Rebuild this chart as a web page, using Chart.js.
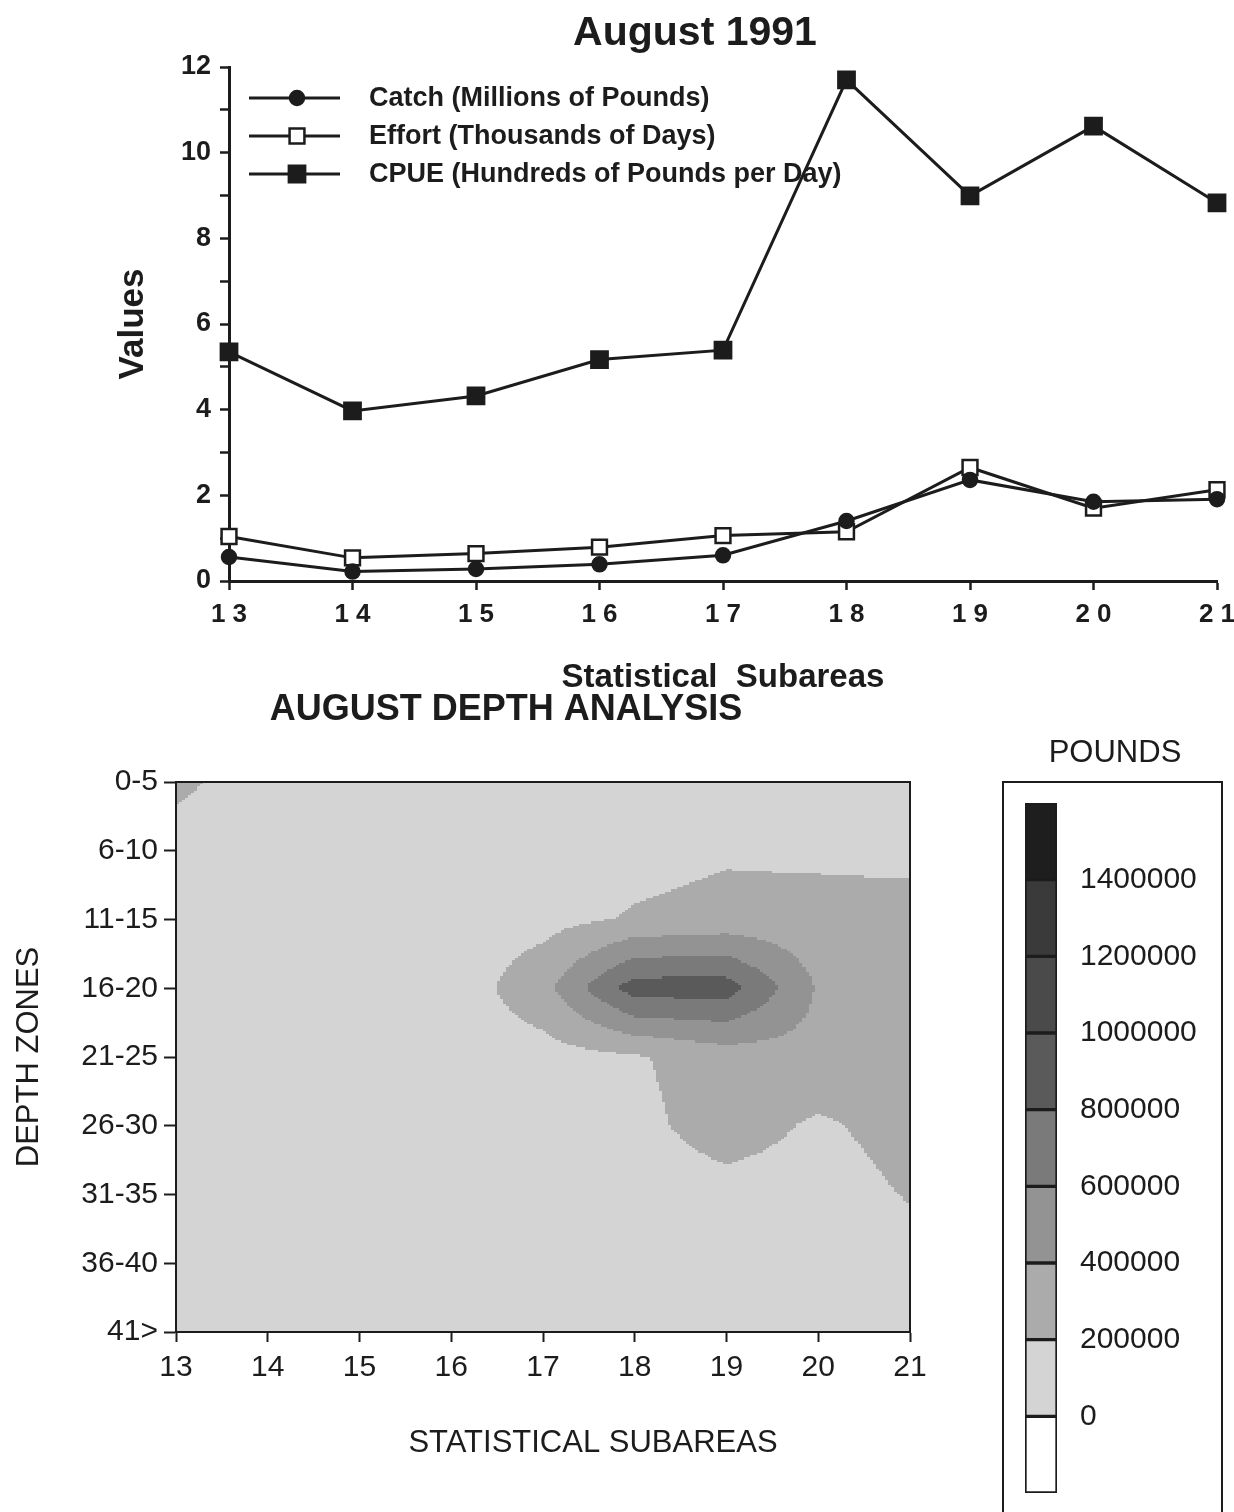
<!DOCTYPE html>
<html>
<head>
<meta charset="utf-8">
<script src="https://cdn.jsdelivr.net/npm/chart.js@4.4.1/dist/chart.umd.min.js"></script>
<style>
  html, body { margin: 0; padding: 0; background: #fff; }
  body { width: 1234px; height: 1512px; position: relative; overflow: hidden; }
  .panel { position: absolute; }
</style>
</head>
<body>
<div class="panel" style="left:0;top:0;width:1234px;height:692px"><canvas id="line-chart"></canvas></div>
<div class="panel" style="left:0;top:680px;width:1012px;height:832px"><canvas id="depth-chart"></canvas></div>
<div class="panel" style="left:1000px;top:725px;width:234px;height:787px"><canvas id="pounds-key"></canvas></div>
<script>
// --- top chart data ---
const subareas = ['13', '14', '15', '16', '17', '18', '19', '20', '21'];
const catchMillions = [0.56, 0.22, 0.28, 0.39, 0.60, 1.40, 2.36, 1.85, 1.91];
const effortThousands = [1.04, 0.54, 0.64, 0.79, 1.06, 1.15, 2.65, 1.70, 2.13];
const cpueHundreds = [5.35, 3.97, 4.32, 5.17, 5.39, 11.70, 8.99, 10.62, 8.83];

// --- depth analysis data: pounds per subarea (columns) and depth zone (rows) ---
const subareaNums = [13, 14, 15, 16, 17, 18, 19, 20, 21];
const depthZones = ['0-5', '6-10', '11-15', '16-20', '21-25', '26-30', '31-35', '36-40', '41>'];
const poundsByZone = [
    [240000, 110000, 100000, 100000, 100000, 100000,  90000,  90000,  80000],
    [120000, 100000, 100000, 100000, 110000, 130000, 175000, 160000, 150000],
    [100000, 100000, 100000, 100000, 130000, 220000, 265000, 275000, 270000],
    [ 90000,  90000,  95000,  80000, 330000, 900000, 900000, 380000, 300000],
    [ 90000,  90000,  90000,  90000, 120000, 180000, 300000, 330000, 290000],
    [ 90000,  90000,  90000,  90000, 100000, 150000, 280000, 175000, 260000],
    [ 90000,  90000,  90000,  90000,  90000, 110000, 140000, 130000, 210000],
    [ 90000,  90000,  90000,  90000,  90000,  90000, 100000, 100000, 140000],
    [ 80000,  80000,  80000,  80000,  80000,  80000,  80000,  80000, 100000]
];
const poundLevels = [0, 200000, 400000, 600000, 800000, 1000000, 1200000, 1400000];
const levelShades = ['#ffffff', '#d4d4d4', '#ababab', '#939393', '#7a7a7a', '#5a5a5a', '#4a4a4a', '#3a3a3a', '#1e1e1e'];

const ink = '#1c1c1c';
const fontFamily = '"Liberation Sans", Arial, Helvetica, sans-serif';
Chart.defaults.font.family = fontFamily;
Chart.defaults.color = ink;
Chart.defaults.animation = false;

// free-standing headings, placed where the original page had them
function captions(items) {
    return {
        id: 'captions',
        afterDraw(chart) {
            const { ctx } = chart;
            ctx.save();
            ctx.fillStyle = ink;
            ctx.textAlign = 'center';
            ctx.textBaseline = 'middle';
            items.forEach(it => {
                ctx.font = it.font + ' ' + fontFamily;
                ctx.fillText(it.text, it.x, it.y);
            });
            ctx.restore();
        }
    };
}

function drawMarker(ctx, ds, x, y) {
    ctx.fillStyle = ds.pointBackgroundColor;
    ctx.strokeStyle = ds.pointBorderColor;
    ctx.lineWidth = ds.pointBorderWidth;
    ctx.beginPath();
    if (ds.pointStyle === 'circle') {
        ctx.arc(x, y, ds.pointRadius, 0, Math.PI * 2);
    } else {
        const half = ds.pointRadius * Math.SQRT1_2;
        ctx.rect(x - half, y - half, half * 2, half * 2);
    }
    ctx.fill();
    ctx.stroke();
}

// legend drawn inside the plot, line + marker + text like the original
const legendInPlot = {
    id: 'legendInPlot',
    afterDatasetsDraw(chart) {
        const { ctx, chartArea } = chart;
        ctx.save();
        chart.data.datasets.forEach((ds, i) => {
            const y = chartArea.top + 31 + i * 38;
            ctx.strokeStyle = ds.borderColor;
            ctx.lineWidth = ds.borderWidth;
            ctx.beginPath();
            ctx.moveTo(chartArea.left + 20, y);
            ctx.lineTo(chartArea.left + 111, y);
            ctx.stroke();
            drawMarker(ctx, ds, chartArea.left + 68, y);
            ctx.fillStyle = ink;
            ctx.font = 'bold 27px ' + fontFamily;
            ctx.textBaseline = 'middle';
            ctx.fillText(ds.label, chartArea.left + 140, y + 1);
        });
        ctx.restore();
    }
};

function seriesStyle(label, data, pointStyle, radius, fill) {
    return {
        label, data, pointStyle,
        borderColor: ink, borderWidth: 3,
        pointRadius: radius, pointHoverRadius: radius,
        pointBackgroundColor: fill, pointBorderColor: ink, pointBorderWidth: 2.5,
        tension: 0, clip: false
    };
}

new Chart(document.getElementById('line-chart'), {
    type: 'line',
    data: {
        labels: subareas,
        datasets: [
            seriesStyle('Catch (Millions of Pounds)', catchMillions, 'circle', 7, ink),
            seriesStyle('Effort (Thousands of Days)', effortThousands, 'rect', 10.5, '#ffffff'),
            seriesStyle('CPUE (Hundreds of Pounds per Day)', cpueHundreds, 'rect', 11.5, ink)
        ]
    },
    options: {
        responsive: true,
        maintainAspectRatio: false,
        layout: { padding: { left: 0, right: 17, top: 67, bottom: 0 } },
        plugins: {
            legend: { display: false },
            tooltip: { enabled: false }
        },
        scales: {
            x: {
                type: 'category', offset: false,
                ticks: {
                    padding: 9, font: { size: 26, weight: 'bold' },
                    callback: (v, i) => subareas[i].split('').join(' ')
                },
                grid: { drawOnChartArea: false, tickLength: 9, tickWidth: 2.5, tickColor: ink },
                border: { color: ink, width: 3 },
                title: {
                    display: true, text: 'Statistical  Subareas',
                    font: { size: 33, weight: 'bold' }, padding: { top: 0, bottom: -6 }
                },
                afterFit(scale) { scale.height = 111; scale.paddingLeft = 0; scale.paddingRight = 0; }
            },
            y: {
                min: 0, max: 12,
                ticks: {
                    stepSize: 1, autoSkip: false, padding: 9,
                    font: { size: 27, weight: 'bold' },
                    callback: v => (v % 2 === 0 ? v : '')
                },
                grid: { drawOnChartArea: false, tickLength: 9, tickWidth: 2.5, tickColor: ink },
                border: { color: ink, width: 3 },
                title: {
                    display: true, text: 'Values',
                    font: { size: 35, weight: 'bold' }, padding: { top: 112, bottom: 0 }
                },
                afterFit(scale) { scale.width = 229; scale.paddingTop = 0; scale.paddingBottom = 0; }
            }
        }
    },
    plugins: [legendInPlot, captions([{ text: 'August 1991', font: 'bold 41px', x: 695, y: 34 }])]
});

// --- depth contour ---
function shadeFor(v) {
    let idx = 0;
    for (let k = 0; k < poundLevels.length; k++) {
        if (v >= poundLevels[k]) idx = k + 1;
    }
    return levelShades[idx];
}

const depthShading = {
    id: 'depthShading',
    beforeDatasetsDraw(chart) {
        const { ctx, chartArea } = chart;
        const sx = chart.scales.x, sy = chart.scales.y;
        const steps = 30;
        ctx.save();
        for (let c = 0; c < subareaNums.length - 1; c++) {
            for (let r = 0; r < depthZones.length - 1; r++) {
                const v00 = poundsByZone[r][c], v10 = poundsByZone[r][c + 1];
                const v01 = poundsByZone[r + 1][c], v11 = poundsByZone[r + 1][c + 1];
                for (let a = 0; a < steps; a++) {
                    const fx = (a + 0.5) / steps;
                    const xa = sx.getPixelForValue(subareaNums[c] + a / steps);
                    const xb = sx.getPixelForValue(subareaNums[c] + (a + 1) / steps);
                    const x0 = Math.floor(Math.min(xa, xb)), x1 = Math.ceil(Math.max(xa, xb));
                    for (let b = 0; b < steps; b++) {
                        const fy = (b + 0.5) / steps;
                        const v = v00 * (1 - fx) * (1 - fy) + v10 * fx * (1 - fy) + v01 * (1 - fx) * fy + v11 * fx * fy;
                        const ya = sy.getPixelForValue(r + b / steps);
                        const yb = sy.getPixelForValue(r + (b + 1) / steps);
                        const y0 = Math.floor(Math.min(ya, yb)), y1 = Math.ceil(Math.max(ya, yb));
                        ctx.fillStyle = shadeFor(v);
                        ctx.fillRect(x0, y0, x1 - x0, y1 - y0);
                    }
                }
            }
        }
        ctx.strokeStyle = ink;
        ctx.lineWidth = 2;
        ctx.strokeRect(chartArea.left, chartArea.top, chartArea.right - chartArea.left, chartArea.bottom - chartArea.top);
        ctx.restore();
    }
};

new Chart(document.getElementById('depth-chart'), {
    type: 'scatter',
    data: { datasets: [{ data: [] }] },
    options: {
        responsive: true,
        maintainAspectRatio: false,
        layout: { padding: { left: 0, right: 102, top: 102, bottom: 0 } },
        plugins: {
            legend: { display: false },
            tooltip: { enabled: false }
        },
        scales: {
            x: {
                type: 'linear', min: 13, max: 21,
                ticks: { stepSize: 1, padding: 8, font: { size: 30 } },
                grid: { drawOnChartArea: false, tickLength: 10, tickWidth: 2, tickColor: ink },
                border: { color: ink, width: 2 },
                afterFit(scale) { scale.height = 180; scale.paddingLeft = 0; scale.paddingRight = 0; }
            },
            y: {
                type: 'linear', min: 0, max: 8, reverse: true,
                ticks: {
                    stepSize: 1, autoSkip: false, padding: 6, font: { size: 30 },
                    callback: v => depthZones[v]
                },
                grid: { drawOnChartArea: false, tickLength: 12, tickWidth: 2, tickColor: ink },
                border: { color: ink, width: 2 },
                title: {
                    display: true, text: 'DEPTH ZONES',
                    font: { size: 31 }, padding: { top: 11, bottom: 0 }
                },
                afterFit(scale) { scale.width = 176; scale.paddingTop = 0; scale.paddingBottom = 0; }
            }
        }
    },
    plugins: [depthShading, captions([
        { text: 'AUGUST DEPTH ANALYSIS', font: 'bold 36px', x: 506, y: 30 },
        { text: 'STATISTICAL SUBAREAS', font: '31px', x: 593, y: 763 }
    ])]
});

// --- POUNDS key: stacked bar of shade bands ---
const keyFrame = {
    id: 'keyFrame',
    afterDraw(chart) {
        const { ctx } = chart;
        ctx.save();
        ctx.strokeStyle = ink;
        ctx.lineWidth = 2;
        ctx.strokeRect(3, 57, 219, 800);
        ctx.restore();
    }
};

const keyBands = [{ from: -200000, to: 0 }].concat(
    poundLevels.map((lv, i) => ({ from: lv, to: i + 1 < poundLevels.length ? poundLevels[i + 1] : lv + 200000 }))
);

new Chart(document.getElementById('pounds-key'), {
    type: 'bar',
    data: {
        labels: [''],
        datasets: keyBands.map((band, i) => ({
            label: String(band.from),
            data: [band.from < 0 ? band.from : band.to - band.from],
            backgroundColor: levelShades[i],
            borderColor: ink,
            borderWidth: 2,
            borderSkipped: false,
            barPercentage: 1,
            categoryPercentage: 1
        }))
    },
    options: {
        responsive: true,
        maintainAspectRatio: false,
        layout: { padding: { left: 25, right: 0, top: 78, bottom: 19 } },
        plugins: {
            legend: { display: false },
            tooltip: { enabled: false }
        },
        scales: {
            x: { display: false, stacked: true },
            y: {
                stacked: true, position: 'right',
                min: -200000, max: 1600000,
                ticks: {
                    stepSize: 200000, autoSkip: false, padding: 23, font: { size: 30 },
                    callback: v => String(v)
                },
                afterBuildTicks(scale) {
                    scale.ticks = scale.ticks.filter(t => t.value >= 0 && t.value <= 1400000);
                },
                grid: { display: false, drawTicks: false },
                border: { display: false },
                afterFit(scale) { scale.width = 177; scale.paddingTop = 0; scale.paddingBottom = 0; }
            }
        }
    },
    plugins: [keyFrame, captions([{ text: 'POUNDS', font: '31px', x: 115, y: 28 }])]
});
</script>
</body>
</html>
